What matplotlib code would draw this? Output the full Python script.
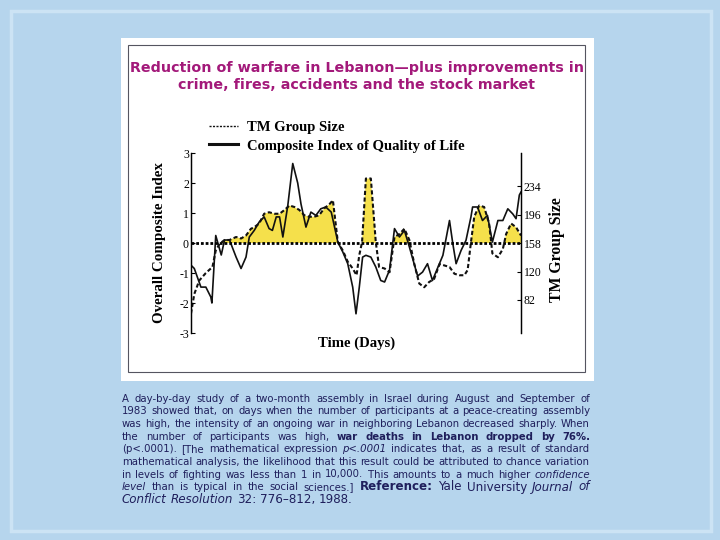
import matplotlib
matplotlib.use('Agg')
import matplotlib.pyplot as plt
from matplotlib.patches import Rectangle
from matplotlib.lines import Line2D
import numpy as np

# ---------------- data ----------------
qol_days = [0, 0.6, 1.8, 2.7, 3.6, 3.8, 4.5, 5.5, 6.1, 7.0,
            8.2, 9.1, 10.0, 10.6, 11.5, 12.4, 13.3, 14.2, 14.8, 15.5,
            16.1, 16.7, 17.6, 18.5, 19.4, 20.0, 20.9, 21.8, 22.7, 23.6,
            24.5, 25.5, 26.7, 27.6, 28.5, 29.4, 30.0, 30.6, 31.2, 31.8,
            32.7, 33.6, 34.5, 35.2, 36.1, 37.0, 37.9, 38.8, 39.7, 40.3,
            41.2, 42.1, 43.0, 43.9, 44.8, 45.8, 47.0, 47.6, 48.2, 49.1,
            50.0, 50.9, 51.2, 52.1, 53.0, 53.9, 54.8, 55.8, 56.7, 57.6,
            58.5, 59.1, 59.7, 60.0]
qol_index = [-0.74, -0.85, -1.47, -1.47, -1.8, -2.0, 0.25, -0.4, 0.1, 0.1,
             -0.47, -0.85, -0.47, 0.2, 0.42, 0.7, 0.87, 0.48, 0.42, 0.87,
             0.87, 0.2, 1.25, 2.65, 2.0, 1.3, 0.53, 1.03, 0.92, 1.14,
             1.2, 1.03, 0.03, -0.3, -0.69, -1.47, -2.36, -1.47, -0.47, -0.41,
             -0.47, -0.8, -1.25, -1.3, -0.9, 0.48, 0.2, 0.42, -0.13, -0.52,
             -1.1, -0.97, -0.69, -1.25, -0.85, -0.41, 0.75, -0.02, -0.69, -0.25,
             0.09, 0.87, 1.2, 1.2, 0.75, 0.92, 0.03, 0.75, 0.75, 1.14,
             0.97, 0.81, 1.6, 1.7]

tm_days = [0, 0.6, 1.5, 2.7, 3.9, 4.5, 5.2, 6.1, 7.0, 8.2,
           9.1, 10.0, 10.9, 11.5, 12.4, 13.3, 14.2, 15.2, 16.1, 17.0,
           17.9, 18.8, 19.7, 20.6, 21.5, 22.4, 23.3, 24.2, 25.2, 25.8,
           26.7, 27.6, 28.5, 29.4, 30.1, 30.6, 31.1, 31.8, 32.7, 33.6,
           34.2, 35.2, 36.1, 37.0, 37.9, 38.8, 39.7, 40.6, 41.5, 42.4,
           43.3, 44.2, 45.2, 46.1, 47.0, 47.9, 48.8, 49.7, 50.3, 50.9,
           51.5, 52.4, 53.3, 54.2, 54.8, 55.8, 56.7, 57.3, 58.2, 59.1,
           60.0]
tm_size = [64, 90, 108, 118, 126, 148, 157, 162, 162, 166,
           164, 168, 177, 179, 184, 197, 199, 197, 197, 202,
           208, 206, 202, 195, 193, 193, 195, 204, 210, 215,
           159, 148, 133, 124, 115, 142, 159, 244, 244, 159,
           126, 124, 119, 166, 170, 177, 162, 130, 104, 99,
           106, 110, 130, 128, 126, 117, 115, 115, 122, 159,
           193, 208, 206, 184, 144, 139, 150, 170, 184, 179,
           168]

left_ticks = [-3, -2, -1, 0, 1, 2, 3]
left_ticklabels = ['-3', '-2', '-1', '0', '1', '2', '3']
right_ticks = [82, 120, 158, 196, 234]
tm_baseline = 158

title_lines = ["Reduction of warfare in Lebanon\u2014plus improvements in",
               "crime, fires, accidents and the stock market"]
legend_labels = ["TM Group Size", "Composite Index of Quality of Life"]

# ---------------- figure ----------------
W, H = 720, 540
fig = plt.figure(figsize=(7.2, 5.4), dpi=100)
fig.patch.set_facecolor('#b6d5ed')
renderer = fig.canvas.get_renderer()

def fx(p): return p / W
def fy(p): return 1 - p / H

def text_width(s, **kw):
    t = fig.text(0, 0, s, **kw)
    w = t.get_window_extent(renderer).width
    t.remove()
    return w

def fit_size(s, target, **kw):
    return 10 * target / text_width(s, fontsize=10, **kw)

# slide frame and white panel
fig.add_artist(Rectangle((fx(10.5), fy(531)), (711 - 10.5) / W, (531 - 11) / H,
                         transform=fig.transFigure, fill=False,
                         edgecolor='#cce3f4', lw=2.5, zorder=-5))
fig.add_artist(Rectangle((fx(121), fy(381)), (594 - 121) / W, (381 - 38) / H,
                         transform=fig.transFigure, facecolor='white',
                         edgecolor='none', zorder=-4))
fig.add_artist(Rectangle((fx(128), fy(372)), (585 - 128) / W, (372 - 45) / H,
                         transform=fig.transFigure, fill=False,
                         edgecolor='#555560', lw=0.8, zorder=-3))

# title
tkw = dict(family='DejaVu Sans', fontweight='bold')
ts = fit_size(title_lines[0], 452, **tkw)
fig.text(fx(357), fy(68), title_lines[0], ha='center', va='center',
         fontsize=ts, color='#a3197a', **tkw)
fig.text(fx(357), fy(85), title_lines[1], ha='center', va='center',
         fontsize=ts, color='#a3197a', **tkw)

# chart
serif_b = dict(family='Liberation Serif', fontweight='bold')
ax = fig.add_axes([fx(191), fy(333), (521 - 191) / W, (333 - 153) / H])
ax2 = ax.twinx()
ax.set_zorder(ax2.get_zorder() + 1)
ax.patch.set_visible(False)

ax2.fill_between(tm_days, tm_baseline, tm_size,
                 where=np.array(tm_size) > tm_baseline, interpolate=True,
                 color='#f5e04b', lw=0)
ax2.plot(tm_days, tm_size, color='#111111', lw=1.5, ls=(0, (2.0, 1.2)))
ax.plot(qol_days, qol_index, color='#111111', lw=1.2)
ax.axhline(0, color='black', lw=2.0, ls=(0, (1.0, 0.7)))

ax.set_xlim(0, 60)
ax.set_ylim(-3, 3)
ax2.set_ylim(38, 278)
ax.set_xticks([])
ax.set_yticks(left_ticks)
ax.set_yticklabels(left_ticklabels, family='Liberation Serif', fontsize=8.5)
ax2.set_yticks(right_ticks)
ax2.set_yticklabels([str(v) for v in right_ticks], family='Liberation Serif', fontsize=8.5)
for a in (ax, ax2):
    for s in ('top', 'bottom'):
        a.spines[s].set_visible(False)
    a.spines['left'].set_linewidth(0.9)
    a.spines['right'].set_linewidth(0.9)
ax.tick_params(axis='y', direction='in', length=3, width=0.8, pad=1.5)
ax2.tick_params(axis='y', direction='in', length=3, width=0.8, pad=2)

yl = fit_size("Overall Composite Index", 161, **serif_b)
fig.text(fx(160), fy(243), "Overall Composite Index", rotation=90,
         ha='center', va='center', fontsize=yl, **serif_b)
fig.text(fx(557), fy(250), "TM Group Size", rotation=90,
         ha='center', va='center', fontsize=fit_size("TM Group Size", 105, **serif_b), **serif_b)
fig.text(fx(357), fy(343), "Time (Days)", ha='center', va='center',
         fontsize=fit_size("Time (Days)", 77, **serif_b), **serif_b)

lg_size = fit_size(legend_labels[1], 218, **serif_b)
h1 = Line2D([], [], color='#111111', lw=1.0, ls=(0, (1.5, 1.0)))
h2 = Line2D([], [], color='#111111', lw=2.2)
fig.legend([h1, h2], legend_labels, loc='upper left',
           bbox_to_anchor=(fx(206), fy(118)), frameon=False,
           prop=dict(family='Liberation Serif', weight='bold', size=lg_size),
           handlelength=2.0, handletextpad=0.6, labelspacing=0.35,
           borderpad=0.2, borderaxespad=0)

# caption (justified)
cap_color = '#1f1f5c'
R = 'regular'
B = 'bold'
I = 'italic'

caption_lines = [
    [("A day-by-day study of a two-month assembly in Israel during August and September of", R)],
    [("1983 showed that, on days when the number of participants at a peace-creating assembly", R)],
    [("was high, the intensity of an ongoing war in neighboring Lebanon decreased sharply. When", R)],
    [("the number of participants was high,", R), ("war deaths in Lebanon dropped by 76%.", B)],
    [("(p<.0001). [The mathematical expression", R), ("p<.0001", I),
     ("indicates that, as a result of standard", R)],
    [("mathematical analysis, the likelihood that this result could be attributed to chance variation", R)],
    [("in levels of fighting was less than 1 in 10,000. This amounts to a much higher", R),
     ("confidence", I)],
]
ref_line_small = [("level", I), ("than is typical in the social sciences.]", R)]
ref_line_big = [("Reference:", B), ("Yale University", R), ("Journal of", I)]
last_line = [("Conflict Resolution", I), ("32: 776\u2013812, 1988.", R)]

def style(kind, size):
    d = dict(family='DejaVu Sans', fontsize=size)
    if kind == B:
        d['fontweight'] = 'bold'
    if kind == I:
        d['fontstyle'] = 'italic'
    return d

def segs_of(parts, size):
    out = []
    for txt, kind in parts:
        for w in txt.split():
            out.append((w, style(kind, size)))
    return out

def natural_width(segs):
    kw = segs[0][1]
    sp = text_width("a a", **kw) - text_width("aa", **kw)
    return sum(text_width(t, **k) for t, k in segs) + sp * (len(segs) - 1)

# small font sized so the widest line fits the column with normal spaces
widest = max(natural_width(segs_of(p, 10)) for p in caption_lines)
small_size = 10 * 466 / widest
big_size = 10 * 232 / natural_width(segs_of(last_line, 10))

def put_line(segs, yb, justify=True, x0=122, x1=590):
    ws = [text_width(t, **kw) for t, kw in segs]
    if justify and len(segs) > 1:
        gap = (x1 - x0 - sum(ws)) / (len(segs) - 1)
    else:
        kw = segs[-1][1]
        gap = text_width("a a", **kw) - text_width("aa", **kw)
    x = x0
    for (t, kw), w in zip(segs, ws):
        fig.text(fx(x), fy(yb), t, ha='left', va='baseline', color=cap_color, **kw)
        x += w + gap

baselines = [401.5, 414, 427, 439.5, 452, 465, 477.5]
for parts, yb in zip(caption_lines, baselines):
    put_line(segs_of(parts, small_size), yb)
put_line(segs_of(ref_line_small, small_size) + segs_of(ref_line_big, big_size), 490.5)
put_line(segs_of(last_line, big_size), 503, justify=False)

fig.savefig('out.png', dpi=100, facecolor=fig.get_facecolor())
